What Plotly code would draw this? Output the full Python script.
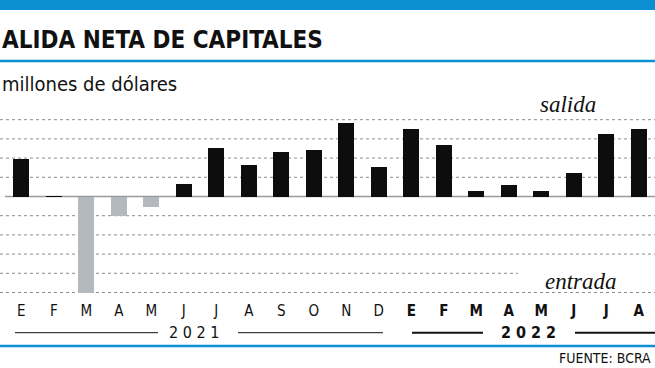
import plotly.graph_objects as go

# ---- data ----
months = ["E", "F", "M", "A", "M", "J", "J", "A", "S", "O", "N", "D",
          "E", "F", "M", "A", "M", "J", "J", "A"]
years = [2021] * 12 + [2022] * 8
values = [390, 5, -1000, -200, -110, 130, 500, 325, 465, 480, 765, 310,
          700, 540, 55, 120, 60, 245, 650, 700]  # millones de dólares
grid_values = [800, 600, 400, 200, -200, -400, -600, -800, -1000]
year_labels = ["2 0 2 1", "2 0 2 2"]

W, H = 655, 368
BLUE = "#0b8ed2"
COND = "Liberation Sans Narrow, DejaVu Sans Condensed, Roboto, sans-serif"
SCRIPT = "Liberation Serif, DejaVu Serif, serif"

idx = list(range(len(values)))
colors = ["#0d0d0d" if v >= 0 else "#b4b9be" for v in values]
ticktext = [f"<b>{m}</b>" if y == 2022 else m for m, y in zip(months, years)]

fig = go.Figure(go.Bar(x=idx, y=values, marker=dict(color=colors, line=dict(width=0)),
                       width=0.48, hoverinfo="skip"))

def px(x):
    return x / W

def py(y):
    return (300 - y) / 200

shapes = []
for g in grid_values:
    x1 = px(518) if g == -800 else 1
    shapes.append(dict(type="line", xref="paper", yref="y", x0=0, x1=x1, y0=g, y1=g,
                       line=dict(color="#8c8c8c", width=1, dash="dot"), layer="below"))
shapes.append(dict(type="line", xref="x", yref="y", x0=-0.5, x1=19.6, y0=0, y1=0,
                   line=dict(color="#9a9a9a", width=1.5), layer="below"))
shapes.append(dict(type="rect", xref="paper", yref="paper", x0=0, x1=1, y0=py(0), y1=py(10),
                   fillcolor=BLUE, line=dict(width=0)))
shapes.append(dict(type="line", xref="paper", yref="paper", x0=0, x1=1, y0=py(61), y1=py(61),
                   line=dict(color=BLUE, width=2.5)))
shapes.append(dict(type="line", xref="paper", yref="paper", x0=0, x1=1, y0=py(346), y1=py(346),
                   line=dict(color=BLUE, width=2.5)))
for (a, b, w) in [(15, 158, 1), (238, 383, 1), (412, 483, 2), (575, 655, 2)]:
    shapes.append(dict(type="line", xref="paper", yref="paper", x0=px(a), x1=px(b),
                       y0=py(332.7), y1=py(332.7), line=dict(color="#111", width=w)))

annotations = [
    dict(text="ALIDA NETA DE CAPITALES", xref="paper", yref="paper", x=0, y=py(40),
         xanchor="left", yanchor="middle", showarrow=False,
         font=dict(family=COND, size=24, color="#111", weight="bold")),
    dict(text="millones de dólares", xref="paper", yref="paper", x=0, y=py(84),
         xanchor="left", yanchor="middle", showarrow=False,
         font=dict(family=COND, size=20, color="#111")),
    dict(text="salida", xref="paper", yref="paper", x=px(568), y=py(104),
         xanchor="center", yanchor="middle", showarrow=False,
         font=dict(family=SCRIPT, size=23, color="#111", style="italic")),
    dict(text="entrada", xref="paper", yref="paper", x=px(581), y=py(281),
         xanchor="center", yanchor="middle", showarrow=False,
         font=dict(family=SCRIPT, size=23, color="#111", style="italic")),
    dict(text=year_labels[0], xref="paper", yref="paper", x=px(194), y=py(332.5),
         xanchor="center", yanchor="middle", showarrow=False,
         font=dict(family=COND, size=16, color="#111")),
    dict(text=f"<b>{year_labels[1]}</b>", xref="paper", yref="paper", x=px(528), y=py(332.5),
         xanchor="center", yanchor="middle", showarrow=False,
         font=dict(family=COND, size=16, color="#111")),
    dict(text="FUENTE: BCRA", xref="paper", yref="paper", x=px(653), y=py(358),
         xanchor="right", yanchor="middle", showarrow=False,
         font=dict(family=COND, size=14, color="#111")),
]

fig.update_layout(
    width=W, height=H,
    margin=dict(l=0, r=0, t=100, b=68),
    paper_bgcolor="white", plot_bgcolor="white",
    showlegend=False, bargap=0,
    shapes=shapes, annotations=annotations,
    xaxis=dict(range=[-0.5 - 5 / 32.5, 19.5], tickvals=idx, ticktext=ticktext,
               showgrid=False, zeroline=False, showline=False, ticks="",
               tickfont=dict(family=COND, size=15, color="#111"), fixedrange=True),
    yaxis=dict(range=[-1078, 1005], showgrid=False, zeroline=False, showline=False,
               showticklabels=False, ticks="", fixedrange=True),
)

fig.write_html("out.html", config={"displayModeBar": False},
               post_script="document.body.style.margin='0';")
